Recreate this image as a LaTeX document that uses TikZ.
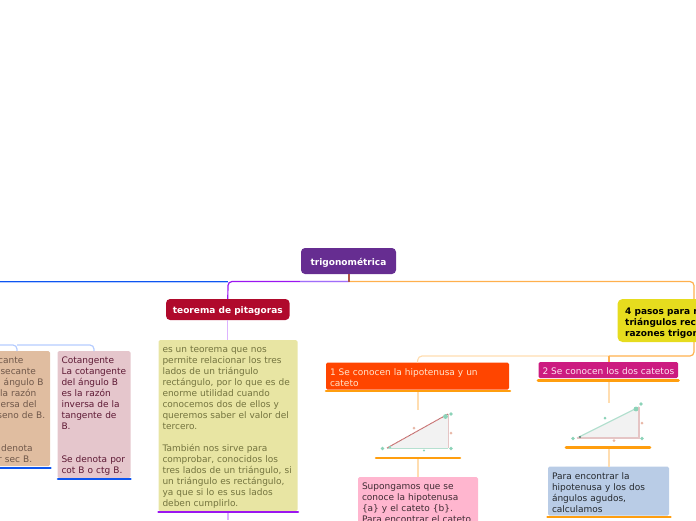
\documentclass[tikz,border=0pt]{standalone}
\usepackage{fontspec}
\setmainfont{DejaVu Sans}
\newcommand{\tll}{\rule{0pt}{10pt}}
\definecolor{cpurple}{HTML}{662D91}
\definecolor{cred}{HTML}{B00A2C}
\definecolor{cyellow}{HTML}{E8E5A3}
\definecolor{ctan}{HTML}{E0BDA0}
\definecolor{crose}{HTML}{E5C6CC}
\definecolor{cpasos}{HTML}{E6DC1E}
\definecolor{corange}{HTML}{FF4500}
\definecolor{cmag}{HTML}{CC1B80}
\definecolor{cpink}{HTML}{FFB6CF}
\definecolor{cblue}{HTML}{B9CCE6}
\definecolor{ubar}{HTML}{FF9E0F}
\definecolor{bluebar}{HTML}{0D55F0}
\definecolor{purplebar}{HTML}{9B16F0}
\definecolor{lineor}{HTML}{FFB04D}
\definecolor{lineorl}{HTML}{FFDDB0}
\definecolor{linebl}{HTML}{B5CCFF}
\definecolor{linepu}{HTML}{DDB3FF}
\definecolor{triG}{HTML}{B5E0D0}
\definecolor{triR}{HTML}{E5C5C5}
\definecolor{dotG}{HTML}{8CD3B8}
\definecolor{dotR}{HTML}{E8B8A8}
\definecolor{txY}{HTML}{74743F}
\definecolor{txT}{HTML}{70584A}
\definecolor{txC}{HTML}{5E1A35}
\tikzset{
  x=1pt,y=-1pt,
  bx/.style={anchor=north west,inner sep=0pt,outer sep=0pt,align=left,font=\fontsize{9}{11}\selectfont,rounded corners=1.5pt},
  title/.style={anchor=center,inner sep=0pt,outer sep=0pt,align=center,font=\fontsize{9}{11}\selectfont\bfseries,rounded corners=4pt},
  ubarline/.style={line width=2.6pt,line cap=round},
  conn/.style={line width=1.2pt,rounded corners=4pt},
  gdot/.style={circle,fill=dotG,inner sep=0pt,minimum size=3.6pt},
  rdot/.style={circle,fill=dotR,inner sep=0pt,minimum size=3pt},
}
\begin{document}
\begin{tikzpicture}
\useasboundingbox (0,0) rectangle (696,520);
\clip (0,0) rectangle (696,520);
% nodes
\node[title,fill=cpurple,text=white,minimum width=95pt,minimum height=26pt] (root) at (348.5,261) {\tll trigonométrica};
\node[title,fill=cred,text=white,minimum width=123.5pt,minimum height=21pt] (pit) at (227.8,309.5) {\tll teorema de pitagoras};
\node[bx,fill=cyellow,text=txY,text width=131pt,minimum height=171pt,inner xsep=4pt] (pittext) at (158.5,340)
 {\tll es un teorema que nos\\permite relacionar los tres\\lados de un triángulo\\rectángulo, por lo que es de\\enorme utilidad cuando\\conocemos dos de ellos y\\queremos saber el valor del\\tercero.\\[11pt]También nos sirve para\\comprobar, conocidos los\\tres lados de un triángulo, si\\un triángulo es rectángulo,\\ya que si lo es sus lados\\deben cumplirlo.};
\node[bx,fill=ctan,text=txT,text width=59pt,minimum height=115pt,inner xsep=4pt] (sec) at (-17,351)
 {\tll Secante\\La secante\\del ángulo B\\es la razón\\inversa del\\coseno de B.\\[22pt]Se denota\\por sec B.};
\node[bx,fill=crose,text=txC,text width=65pt,minimum height=127pt,inner xsep=4pt] (cot) at (57.5,351)
 {\tll Cotangente\\La cotangente\\del ángulo B\\es la razón\\inversa de la\\tangente de\\B.\\[22pt]Se denota por\\cot B o ctg B.};
\node[anchor=north west,inner sep=0pt,outer sep=0pt,fill=cpasos,rounded corners=5pt,minimum width=120pt,minimum height=43pt] (pasos) at (617.5,299) {};
\node[anchor=west,inner sep=0pt,align=left,font=\fontsize{9}{11}\selectfont\bfseries,text=black] (pasostext) at (625,321) {\tll 4 pasos para resolver\\triángulos rectángulos con\\razones trigonométricas};
\node[bx,fill=corange,text=orange!20!white,text width=175pt,minimum height=27pt,inner xsep=4pt] (uno) at (326,362.5) {\tll 1 Se conocen la hipotenusa y un\\cateto};
\node[bx,fill=cmag,text=magenta!10!white,text width=131.5pt,minimum height=16pt,inner xsep=4pt] (dos) at (538.5,362) {\tll\makebox[131.5pt][l]{2 Se conocen los dos catetos}};
\node[bx,fill=cpink,text=black!75!cpink,text width=112pt,minimum height=48pt,inner xsep=4pt,anchor=north west] (sup) at (358,477) {\tll Supongamos que se\\conoce la hipotenusa\\\{a\} y el cateto \{b\}.\\Para encontrar el cateto};
\node[bx,fill=cblue,text=black!80!cblue,text width=113pt,minimum height=49pt,inner xsep=4pt] (enc) at (548,466.5) {\tll Para encontrar la\\hipotenusa y los dos\\ángulos agudos,\\calculamos};
% coordinates
\coordinate (busL) at (0,281.5);
\coordinate (busP) at (228,281.5);
\coordinate (busR) at (694,281.5);
\coordinate (busC) at (349,281.5);
\coordinate (t1) at (418,410);
\coordinate (t1u) at (418,458);
\coordinate (t2) at (609,403);
\coordinate (t2u) at (609,447.5);
\coordinate (busB) at (694,356);
% connectors
\draw[line width=.8pt,color=linebl] (0,282.3) -- (228,282.3);
\draw[line width=.8pt,color=bluebar] (busL) -- (busP);
\draw[conn,color=purplebar] (pit.north) -- (busP) [rounded corners=4pt] -- (busC);
\draw[line width=1.2pt,color=purplebar!60!blue!60!white] (300,281.5) -- (busC);
\draw[conn,color=lineor] (busC) -- (busR) -- (pasos.north -| busR);
\draw[line width=1.6pt,color=cpurple!50!orange] (root.south -| busC) -- (busC);
\draw[conn,color=linepu] (pit.south) -- (pittext.north -| pit.south);
\draw[conn,color=linepu] (228,513) -- (228,520);
\draw[conn,color=linebl] (0,345) -- (17,345) -- (17,351);
\draw[conn,color=linebl] (17,345) -- (94,345) -- (cot.north);
\draw[conn,color=lineor] (pasos.south -| busB) -- (busB) -- (609,356);
\draw[conn,color=lineorl] (609,356) -- (418,356) -- (uno.north);
\draw[conn,color=lineor] (609,356) -- (609,362);
\draw[conn,color=lineorl] (418,392) -- (t1);
\draw[conn,color=lineorl] (t1u) -- (sup.north -| t1u);
\draw[conn,color=lineorl] (609,381) -- (t2);
\draw[conn,color=lineorl] (t2u) -- (enc.north -| t2u);
% underlines
\draw[ubarline,color=purplebar] (158.5,512) -- (298,512);
\draw[ubarline,color=bluebar] (0,468) -- (50.5,468);
\draw[ubarline,color=bluebar] (58,479) -- (130.5,479);
\draw[ubarline,color=ubar] (326,391) -- (510,391);
\draw[ubarline,color=ubar] (538,380.5) -- (678.5,380.5);
\draw[ubarline,color=ubar] (376,458) -- (460,458);
\draw[ubarline,color=ubar] (566,447.5) -- (650,447.5);
\draw[ubarline,color=ubar] (547.5,517) -- (670.5,517);
% triangle 1
\fill[black!5] (387,448) -- (448,448) -- (448,414) -- cycle;
\draw[line width=1pt,color=triG] (387,448) -- (448,448);
\draw[line width=1pt,color=triR] (448,448) -- (448,414);
\draw[line width=1pt,color=triR!70!red] (387,448) -- (448,414);
\draw[line width=.5pt,color=black!60,densely dotted] (387,448) -- (448,414);
\fill[dotG] (445.5,416.5) circle (2.4pt);
\fill[dotG] (390,447) circle (1.4pt);
\node[gdot] (a1) at (382.5,448.5) {};
\node[gdot] (a2) at (451,448.5) {};
\node[gdot] (a3) at (451,414) {};
\node[rdot] (a4) at (414,428) {};
\node[rdot] (a5) at (451,433) {};
\node[gdot,minimum size=2.4pt] (a6) at (424,450.5) {};
% triangle 2
\fill[black!5] (577,438) -- (639,438) -- (639,407) -- cycle;
\draw[line width=1.2pt,color=triG] (577,438) -- (639,407);
\draw[line width=1.2pt,color=triR] (577,438) -- (639,438) -- (639,407);
\fill[dotG] (636,409) circle (2.4pt);
\fill[black!40!dotG] (580,437) circle (1.2pt);
\node[gdot] (b1) at (573,438.5) {};
\node[gdot] (b2) at (642,438.5) {};
\node[gdot] (b3) at (641,404) {};
\node[gdot,minimum size=3pt] (b4) at (605,418) {};
\node[rdot] (b5) at (642,423) {};
\node[rdot] (b6) at (614,440.5) {};
\end{tikzpicture}
\end{document}
